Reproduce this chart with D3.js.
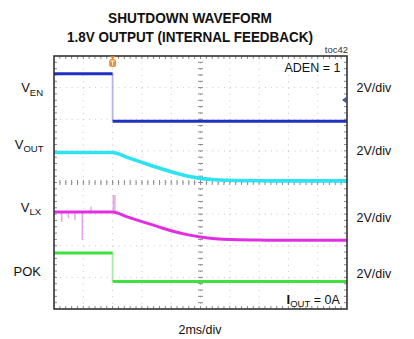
<!DOCTYPE html>
<html>
<head>
<meta charset="utf-8">
<script src="https://cdn.jsdelivr.net/npm/d3@7"></script>
<style>
  body { margin: 0; background: #fff; }
  text { font-family: "Liberation Sans", Arial, sans-serif; fill: #111; }
</style>
</head>
<body>
<svg id="viz"></svg>
<script>
// chart text
var titleLines = ['SHUTDOWN WAVEFORM', '1.8V OUTPUT (INTERNAL FEEDBACK)'];
var channelNames = [['V', 'EN'], ['V', 'OUT'], ['V', 'LX'], ['POK', '']];
var channelScales = ['2V/div', '2V/div', '2V/div', '2V/div'];
var timeScaleLabel = '2ms/div';
var noteTop = 'ADEN = 1';
var figureId = 'toc42';

// scope setup: 10 x 8 divisions, 2ms/div, 2V/div, trigger at t = 0
var timeDomain = [-4, 16];      // ms
var voltsPerDiv = 2;
// ground level of each channel, in divisions from the top of the screen
var channelGround = [2.06, 3.95, 5.83, 7.13];

// traces (time in ms, level in volts)
var venT = [-4, 0, 0, 16];
var venV = [3.0, 3.0, 0, 0];

var voutT = [-4, 0, 1, 2, 3, 4, 5, 6, 7, 8, 10, 12, 16];
var voutV = [1.8, 1.8, 1.49, 1.17, 0.86, 0.58, 0.32, 0.16, 0.07, 0.04, 0.01, 0, 0];

var vlxT = [-4, 0, 1, 2, 3, 4, 5, 6, 7, 8, 10, 12, 16];
var vlxV = [1.8, 1.8, 1.49, 1.19, 0.90, 0.61, 0.38, 0.22, 0.11, 0.05, 0.02, 0, 0];

// switching glitches on VLX before shutdown
var vlxSpikeT = [-3.47, -3.02, -2.57, -2.07, -1.47, 0.05, 0.16];
var vlxSpikeV = [1.18, 1.42, 1.28, 0.02, 2.13, 2.87, 2.87];

var pokT = [-4, 0, 0, 16];
var pokV = [1.8, 1.8, 0, 0];

// layout
var width = 414, height = 339;
var frame = { left: 54, right: 347, top: 56, bottom: 309 };

var svg = d3.select('#viz').attr('width', width).attr('height', height);

var x = d3.scaleLinear().domain(timeDomain).range([frame.left, frame.right]);
var xDiv = d3.scaleLinear().domain([0, 10]).range([frame.left, frame.right]);
var yDiv = d3.scaleLinear().domain([0, 8]).range([frame.top, frame.bottom]);

/************ title ************/
svg.selectAll('.title')
   .data(titleLines)
   .enter().append('text')
   .attr('class', 'title')
   .attr('x', 190)
   .attr('y', (d, i) => i === 0 ? 22.5 : 41.5)
   .attr('text-anchor', 'middle')
   .style('font-family', '"Liberation Sans Narrow", "Liberation Sans", Arial, sans-serif')
   .style('font-weight', 'bold')
   .style('font-size', '15px')
   .attr('textLength', (d, i) => i === 0 ? 164 : 246)
   .attr('lengthAdjust', 'spacingAndGlyphs')
   .text(d => d);

/************ grid ************/
var grid = svg.append('g');
var minorX = 29.3 / 5, minorY = 31.625 / 5;

// dotted division lines
grid.selectAll('.vgrid')
    .data(d3.range(1, 10))
    .enter().append('line')
    .attr('x1', d => xDiv(d)).attr('x2', d => xDiv(d))
    .attr('y1', frame.top).attr('y2', frame.bottom)
    .attr('stroke', d => d === 5 ? '#999' : '#c4c4c4')
    .attr('stroke-width', 1)
    .attr('stroke-dasharray', '1,' + (minorY - 1));

grid.selectAll('.hgrid')
    .data(d3.range(1, 8))
    .enter().append('line')
    .attr('y1', d => yDiv(d)).attr('y2', d => yDiv(d))
    .attr('x1', frame.left).attr('x2', frame.right)
    .attr('stroke', d => d === 4 ? '#999' : '#c4c4c4')
    .attr('stroke-width', 1)
    .attr('stroke-dasharray', '1,' + (minorX - 1));

// minor ticks on the centre cross and along the frame
var xMinor = d3.range(1, 50).map(d => d / 5);
var yMinor = d3.range(1, 40).map(d => d / 5);

grid.selectAll('.cx')
    .data(xMinor).enter().append('line')
    .attr('x1', d => xDiv(d)).attr('x2', d => xDiv(d))
    .attr('y1', yDiv(4) - 2.5).attr('y2', yDiv(4) + 2.5)
    .attr('stroke', '#8a8a8a');
grid.selectAll('.cy')
    .data(yMinor).enter().append('line')
    .attr('y1', d => yDiv(d)).attr('y2', d => yDiv(d))
    .attr('x1', xDiv(5) - 2.5).attr('x2', xDiv(5) + 2.5)
    .attr('stroke', '#8a8a8a');

grid.selectAll('.tx')
    .data(xMinor).enter().append('line')
    .attr('x1', d => xDiv(d)).attr('x2', d => xDiv(d))
    .attr('y1', frame.top).attr('y2', frame.top + 3)
    .attr('stroke', '#8a8a8a');
grid.selectAll('.bx')
    .data(xMinor).enter().append('line')
    .attr('x1', d => xDiv(d)).attr('x2', d => xDiv(d))
    .attr('y1', frame.bottom - 3).attr('y2', frame.bottom)
    .attr('stroke', '#8a8a8a');
grid.selectAll('.ly')
    .data(yMinor).enter().append('line')
    .attr('y1', d => yDiv(d)).attr('y2', d => yDiv(d))
    .attr('x1', frame.left).attr('x2', frame.left + 3)
    .attr('stroke', '#8a8a8a');
grid.selectAll('.ry')
    .data(yMinor).enter().append('line')
    .attr('y1', d => yDiv(d)).attr('y2', d => yDiv(d))
    .attr('x1', frame.right - 3).attr('x2', frame.right)
    .attr('stroke', '#8a8a8a');

/************ traces ************/
var level = (v, ch) => yDiv(channelGround[ch] - v / voltsPerDiv);

function drawTrace(ts, vs, ch, color, edgeColor, w) {
    var pts = ts.map((t, i) => ({ t: t, v: vs[i] }));
    var runs = [[pts[0]]], edges = [];
    for (var i = 1; i < pts.length; i++) {
        if (pts[i].t === pts[i - 1].t) {
            edges.push([pts[i - 1], pts[i]]);
            runs.push([pts[i]]);
        } else {
            runs[runs.length - 1].push(pts[i]);
        }
    }
    var line = d3.line()
                 .x(d => x(d.t))
                 .y(d => level(d.v, ch))
                 .curve(d3.curveMonotoneX);
    svg.append('g').selectAll('line')
       .data(edges).enter().append('line')
       .attr('x1', d => x(d[0].t)).attr('x2', d => x(d[1].t))
       .attr('y1', d => level(d[0].v, ch)).attr('y2', d => level(d[1].v, ch))
       .attr('stroke', edgeColor).attr('stroke-width', 1.8);
    svg.append('g').selectAll('path')
       .data(runs).enter().append('path')
       .attr('d', line)
       .attr('fill', 'none')
       .attr('stroke', color)
       .attr('stroke-width', w);
}

// VLX glitches
svg.append('g').selectAll('line')
   .data(vlxSpikeT).enter().append('line')
   .attr('x1', d => x(d)).attr('x2', d => x(d))
   .attr('y1', level(1.8, 2))
   .attr('y2', (d, i) => level(vlxSpikeV[i], 2))
   .attr('stroke', '#e8a0e8').attr('stroke-width', 1.4);

drawTrace(venT, venV, 0, '#2030c0', '#b4b4e6', 3);
drawTrace(voutT, voutV, 1, '#2ee2f2', '#2ee2f2', 3.6);
drawTrace(vlxT, vlxV, 2, '#e22ee2', '#e22ee2', 3);
drawTrace(pokT, pokV, 3, '#3fe03f', '#a6eca6', 3);

/************ frame and markers ************/
svg.append('rect')
   .attr('x', frame.left).attr('y', frame.top)
   .attr('width', frame.right - frame.left).attr('height', frame.bottom - frame.top)
   .attr('fill', 'none').attr('stroke', '#333').attr('stroke-width', 1.6);

// trigger position marker
var tx = x(0);
var trig = svg.append('g').attr('transform', `translate(${tx}, ${frame.top})`);
trig.append('path').attr('d', 'M-3,0 L3,0 L0,3 Z').attr('fill', '#e07a20');
trig.append('rect').attr('x', -3.5).attr('y', 3).attr('width', 7).attr('height', 8).attr('rx', 2.5)
    .attr('fill', '#e89040');
trig.append('path').attr('d', 'M-2,5 L2,5 M0,5 L0,9.5').attr('stroke', '#fff3e0').attr('stroke-width', 1);

// right-side level marker
svg.append('path')
   .attr('d', `M${frame.right - 5},${yDiv(1.39)} L${frame.right - 1},${yDiv(1.39) - 3} L${frame.right - 1},${yDiv(1.39) + 3} Z`)
   .attr('fill', '#4858a8');

/************ labels ************/
var nameY = [92, 148.5, 211.5, 275.5];
var nameEnd = [43, 43.5, 41, 41];
channelNames.forEach(function(n, i) {
    var t = svg.append('text')
               .attr('x', nameEnd[i]).attr('y', nameY[i])
               .attr('text-anchor', 'end')
               .style('font-size', '13px');
    t.append('tspan').text(n[0]);
    if (n[1]) {
        t.append('tspan').attr('dy', 3.5).style('font-size', '9.5px').text(n[1]);
    }
});

var scaleY = [91.5, 155, 222, 278];
svg.selectAll('.vdiv')
   .data(channelScales).enter().append('text')
   .attr('x', 356.5).attr('y', (d, i) => scaleY[i])
   .style('font-size', '12.5px')
   .text(d => d);

svg.append('text')
   .attr('x', 200).attr('y', 334)
   .attr('text-anchor', 'middle')
   .style('font-size', '12.5px')
   .text(timeScaleLabel);

svg.append('text')
   .attr('x', 284.5).attr('y', 72)
   .style('font-size', '12.5px')
   .text(noteTop);

var iout = svg.append('text').attr('x', 286.5).attr('y', 303.5).style('font-size', '12.5px');
iout.append('tspan').style('font-weight', 'bold').style('font-size', '13px').text('I');
iout.append('tspan').attr('dy', 3).style('font-size', '9.5px').text('OUT');
iout.append('tspan').attr('dy', -3).text(' = 0A');

svg.append('text')
   .attr('x', 348).attr('y', 53)
   .attr('text-anchor', 'end')
   .style('font-size', '9.5px')
   .style('fill', '#333')
   .text(figureId);
</script>
</body>
</html>
